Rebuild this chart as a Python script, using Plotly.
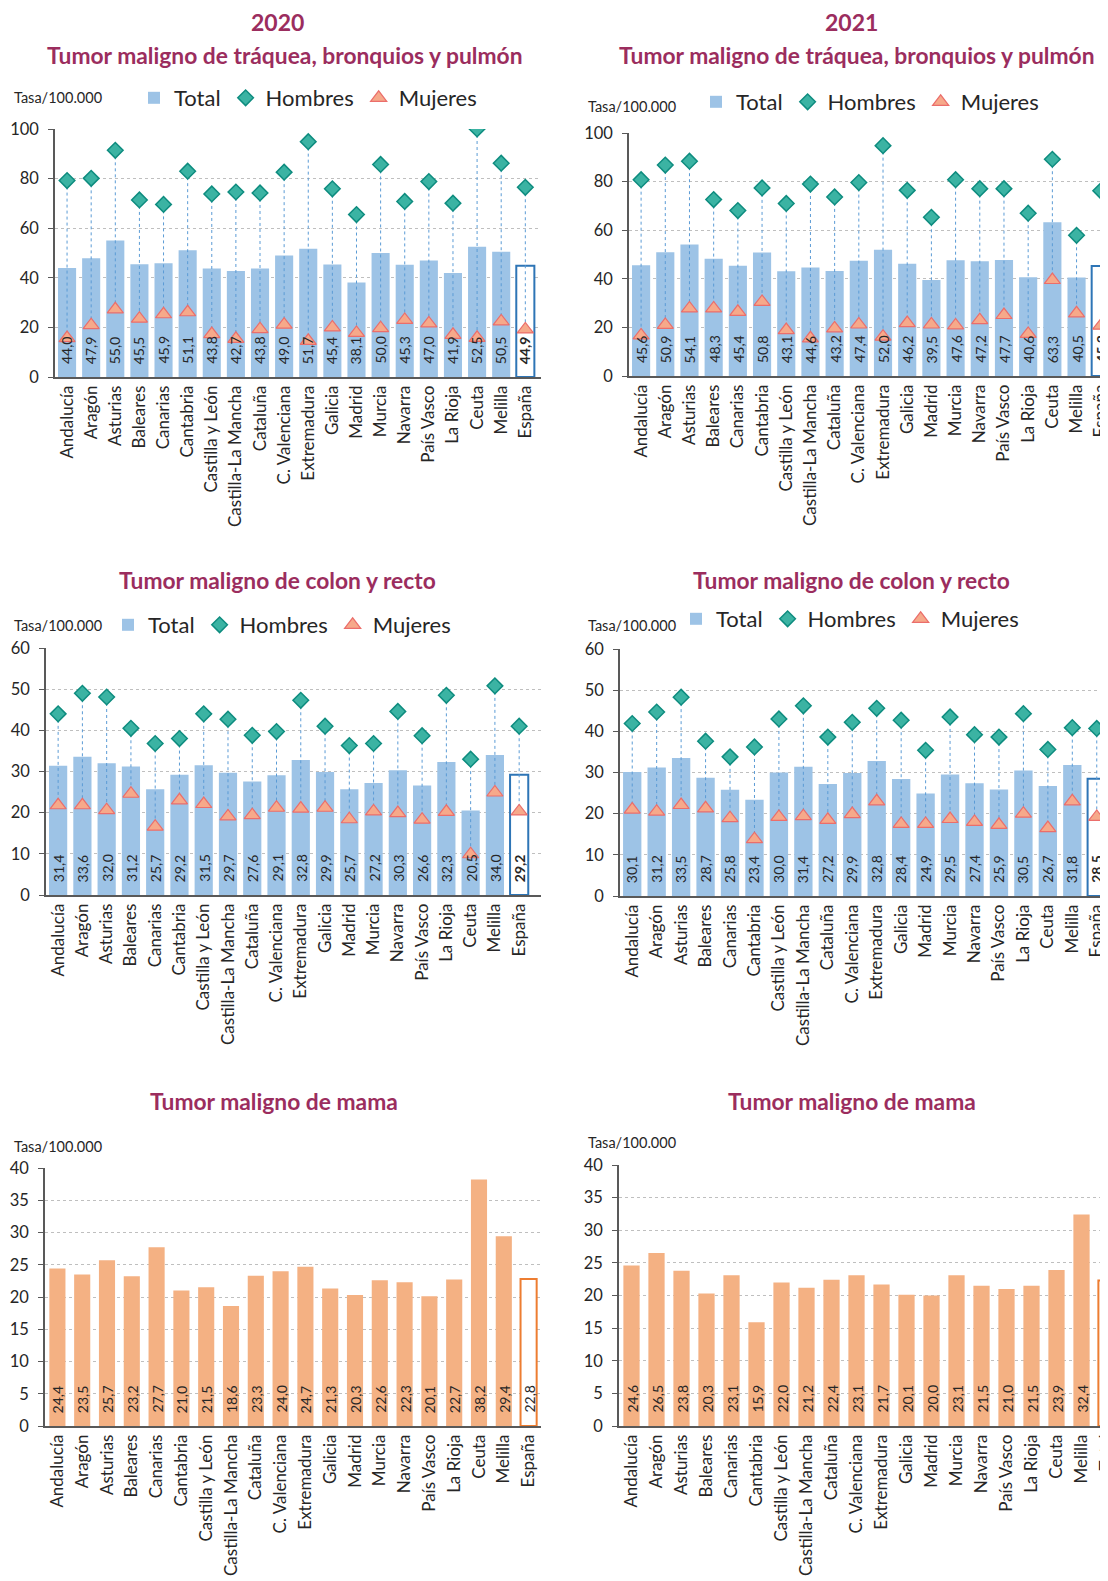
import plotly.graph_objects as go

# the page adds an 8px body margin, so the figure is 8px smaller and all
# positions below are given in window pixels and shifted back by 8
FW, FH = 1100, 1573
OFF = 8

regions = ['Andalucía', 'Aragón', 'Asturias', 'Baleares', 'Canarias', 'Cantabria',
           'Castilla y León', 'Castilla-La Mancha', 'Cataluña', 'C. Valenciana',
           'Extremadura', 'Galicia', 'Madrid', 'Murcia', 'Navarra', 'País Vasco',
           'La Rioja', 'Ceuta', 'Melilla', 'España']
regions_total = regions[:-1] + ['Total']

# pulmón 2020
lung20_total = [44.0, 47.9, 55.0, 45.5, 45.9, 51.1, 43.8, 42.7, 43.8, 49.0,
                51.7, 45.4, 38.1, 50.0, 45.3, 47.0, 41.9, 52.5, 50.5, 44.9]
lung20_men = [79.2, 80.1, 91.4, 71.4, 69.6, 83.0, 73.8, 74.6, 74.2, 82.6,
              94.9, 75.9, 65.5, 85.7, 70.8, 78.8, 70.1, 100.0, 86.2, 76.5]
lung20_women = [15.7, 20.9, 27.3, 23.5, 25.3, 26.1, 17.3, 15.4, 19.3, 21.1,
                14.6, 20.0, 17.8, 19.7, 23.0, 21.6, 17.0, 15.8, 22.4, 19.2]

# pulmón 2021
lung21_total = [45.6, 50.9, 54.1, 48.3, 45.4, 50.8, 43.1, 44.6, 43.2, 47.4,
                52.0, 46.2, 39.5, 47.6, 47.2, 47.7, 40.6, 63.3, 40.5, 45.3]
lung21_men = [80.8, 86.8, 88.4, 72.6, 68.1, 77.4, 71.0, 79.0, 73.7, 79.6,
              94.8, 76.4, 65.3, 80.8, 77.1, 77.1, 67.0, 89.2, 57.9, 76.2]
lung21_women = [16.7, 21.0, 27.8, 27.8, 26.4, 30.5, 18.9, 15.5, 19.6, 21.2,
                16.2, 21.8, 21.2, 20.8, 23.0, 25.1, 17.3, 39.5, 25.8, 20.7]

# colon y recto 2020
colon20_total = [31.4, 33.6, 32.0, 31.2, 25.7, 29.2, 31.5, 29.7, 27.6, 29.1,
                 32.8, 29.9, 25.7, 27.2, 30.3, 26.6, 32.3, 20.5, 34.0, 29.2]
colon20_men = [44.0, 49.0, 48.1, 40.5, 36.8, 38.0, 44.0, 42.7, 38.8, 39.7,
               47.3, 41.0, 36.3, 36.8, 44.6, 38.7, 48.5, 33.0, 50.8, 41.0]
colon20_women = [21.8, 21.8, 20.6, 24.6, 16.6, 23.0, 22.1, 19.1, 19.4, 21.2,
                 21.0, 21.2, 18.4, 20.3, 19.9, 18.3, 20.2, 9.9, 24.9, 20.3]

# colon y recto 2021
colon21_total = [30.1, 31.2, 33.5, 28.7, 25.8, 23.4, 30.0, 31.4, 27.2, 29.9,
                 32.8, 28.4, 24.9, 29.5, 27.4, 25.9, 30.5, 26.7, 31.8, 28.5]
colon21_men = [41.9, 44.7, 48.3, 37.6, 33.8, 36.2, 43.0, 46.2, 38.6, 42.2,
               45.6, 42.7, 35.4, 43.5, 39.2, 38.6, 44.3, 35.6, 40.9, 40.7]
colon21_women = [21.0, 20.5, 22.1, 21.3, 18.9, 13.8, 19.2, 19.4, 18.5, 19.9,
                 23.0, 17.5, 17.5, 18.7, 18.0, 17.3, 20.0, 16.5, 23.0, 19.2]

# mama
breast20 = [24.4, 23.5, 25.7, 23.2, 27.7, 21.0, 21.5, 18.6, 23.3, 24.0,
            24.7, 21.3, 20.3, 22.6, 22.3, 20.1, 22.7, 38.2, 29.4, 22.8]
breast21 = [24.6, 26.5, 23.8, 20.3, 23.1, 15.9, 22.0, 21.2, 22.4, 23.1,
            21.7, 20.1, 20.0, 23.1, 21.5, 21.0, 21.5, 23.9, 32.4, 22.3]

FONT = 'Lato'
TITLE_COL = '#9B2D5E'
BLUE = '#9DC3E6'
BLUE_EDGE = '#2E75B6'
ORANGE = '#F4B183'
ORANGE_EDGE = '#ED7D31'


def fmt(v):
    return f'{v:.1f}'.replace('.', ',')


def fx(px):
    return min(max((px - OFF) / FW, 0.0), 1.0)


def fy(py):
    return 1 - (py - OFF) / FH


fig = go.Figure()
annotations = []

# (index, categories, totals, men, women, bar colour, edge colour, x px, y px, x range, y max, dtick, legend)
panels = [
    (1, regions, lung20_total, lung20_men, lung20_women, BLUE, BLUE_EDGE, (55, 541), (129, 377), 19.65, 100, 20, 'legend'),
    (2, regions, lung21_total, lung21_men, lung21_women, BLUE, BLUE_EDGE, (629, 1108), (133, 376), 19.3, 100, 20, 'legend2'),
    (3, regions, colon20_total, colon20_men, colon20_women, BLUE, BLUE_EDGE, (46, 541), (648, 895), 19.9, 60, 10, 'legend3'),
    (4, regions, colon21_total, colon21_men, colon21_women, BLUE, BLUE_EDGE, (620, 1108), (649, 896), 19.46, 60, 10, 'legend4'),
    (5, regions, breast20, None, None, ORANGE, ORANGE_EDGE, (45, 541), (1168, 1426), 19.5, 40, 5, None),
    (6, regions_total, breast21, None, None, ORANGE, ORANGE_EDGE, (619, 1108), (1165, 1426), 19.06, 40, 5, None),
]

for idx, cats, tot, men, women, col, edge, xp, yp, xr, ymax, dt, leg in panels:
    xa = 'x' if idx == 1 else f'x{idx}'
    ya = 'y' if idx == 1 else f'y{idx}'
    n = len(tot)
    colors = [col] * (n - 1) + ['white']
    widths = [0] * (n - 1) + [2]
    fig.add_trace(go.Bar(
        x=cats, y=tot, xaxis=xa, yaxis=ya, name='Total',
        marker=dict(color=colors, line=dict(color=edge, width=widths)),
        width=0.75 if men else 0.65,
        showlegend=leg is not None, legend=leg or 'legend', hoverinfo='skip'))
    # value labels at the foot of each bar, drawn above the markers
    for i, (c, v) in enumerate(zip(cats, tot)):
        label = fmt(v)
        if men and i == n - 1:
            label = f'<b>{label}</b>'
        annotations.append(dict(
            x=c, y=0, xref=xa, yref=ya, text=label, textangle=-90,
            xanchor='center', yanchor='bottom', yshift=11, showarrow=False,
            font=dict(size=14, color='#262626', family=FONT)))
    if men:
        lx, ly = [], []
        for c, h, m in zip(cats, men, women):
            lx += [c, c, None]
            ly += [h, m, None]
        fig.add_trace(go.Scatter(
            x=lx, y=ly, xaxis=xa, yaxis=ya, mode='lines',
            line=dict(color='#5B9BD5', width=1, dash='dot'),
            showlegend=False, hoverinfo='skip'))
        fig.add_trace(go.Scatter(
            x=cats, y=men, xaxis=xa, yaxis=ya, mode='markers', name='Hombres',
            marker=dict(symbol='diamond', size=12, color='#3BB3A3',
                        line=dict(color='#0E8C7F', width=1.5)),
            legend=leg))
        fig.add_trace(go.Scatter(
            x=cats, y=women, xaxis=xa, yaxis=ya, mode='markers', name='Mujeres',
            marker=dict(symbol='triangle-up', size=14, color='#F6A98A',
                        line=dict(color='#EB6E6B', width=1.2)),
            legend=leg))

    xkey = 'xaxis' if idx == 1 else f'xaxis{idx}'
    ykey = 'yaxis' if idx == 1 else f'yaxis{idx}'
    fig.update_layout({
        xkey: dict(domain=[fx(xp[0]), fx(xp[1])], anchor=ya, range=[-0.5, xr], type='category',
                   tickangle=-90, showline=True, linecolor='#595959', linewidth=1.5,
                   ticks='', showgrid=False, tickfont=dict(size=17, color='#262626'),
                   automargin=False, fixedrange=True),
        ykey: dict(domain=[fy(yp[1]), fy(yp[0])], anchor=xa, range=[0, ymax], dtick=dt,
                   showline=True, linecolor='#595959', linewidth=1.5,
                   ticks='outside', ticklen=5, tickcolor='#595959', ticklabelstandoff=6,
                   showgrid=True, gridcolor='#BFBFBF', griddash='dot', gridwidth=1,
                   zeroline=False, automargin=False,
                   tickfont=dict(size=16.5, color='#262626')),
    })


def note(text, x, y, size, bold=False, color=TITLE_COL, xanchor='center'):
    annotations.append(dict(
        text=f'<b>{text}</b>' if bold else text, x=fx(x), y=fy(y),
        xref='paper', yref='paper', xanchor=xanchor, yanchor='middle',
        showarrow=False, font=dict(size=size, color=color, family=FONT)))


note('2020', 277, 22, 23, True)
note('2021', 852, 22, 23, True)
note('Tumor maligno de tráquea, bronquios y pulmón', 285, 55, 22.8, True)
note('Tumor maligno de tráquea, bronquios y pulmón', 857, 55, 22.8, True)
note('Tumor maligno de colon y recto', 277, 580, 22.8, True)
note('Tumor maligno de colon y recto', 852, 580, 22.8, True)
note('Tumor maligno de mama', 274, 1101, 22.8, True)
note('Tumor maligno de mama', 852, 1101, 22.8, True)
for tx, ty in [(12, 98), (586, 106), (12, 626), (586, 626), (12, 1146), (586, 1142)]:
    note('Tasa/100.000', tx, ty, 14.5, color='#262626', xanchor='left')


def legend_at(x, y):
    return dict(orientation='h', x=fx(x), y=fy(y), xanchor='left', yanchor='middle',
                font=dict(size=22, color='#262626', family=FONT), itemwidth=30,
                bgcolor='rgba(0,0,0,0)', traceorder='normal')


fig.update_layout(
    width=FW, height=FH, margin=dict(l=0, r=0, t=0, b=0, autoexpand=False),
    paper_bgcolor='white', plot_bgcolor='white',
    font=dict(family=FONT, color='#262626'),
    annotations=annotations,
    legend=legend_at(134, 98), legend2=legend_at(696, 102),
    legend3=legend_at(108, 625), legend4=legend_at(676, 619),
)

fig.write_html('out.html')
